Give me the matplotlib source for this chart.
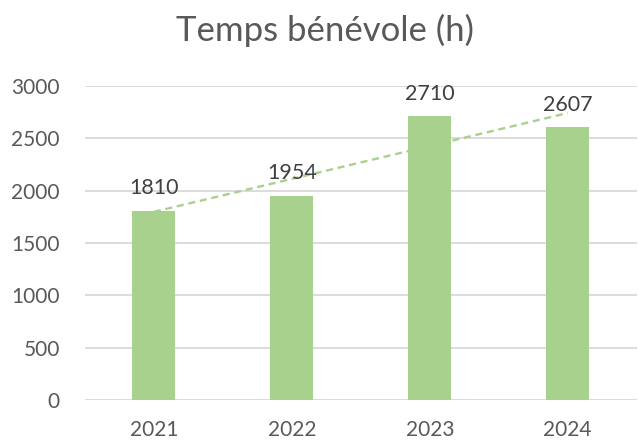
import numpy as np
import matplotlib.pyplot as plt

# données
annees = ['2021', '2022', '2023', '2024']
heures = [1810, 1954, 2710, 2607]
graduations = [0, 500, 1000, 1500, 2000, 2500, 3000]

vert = '#A9D18E'
plt.rcParams['font.family'] = ['Lato', 'DejaVu Sans']

fig = plt.figure(figsize=(6.38, 4.47), dpi=100)
ax = fig.add_axes([0.133, 0.105, 0.865, 0.7025])

x = np.arange(len(annees))
ax.bar(x, heures, width=0.31, color=vert, zorder=3)

# courbe de tendance linéaire
m, b = np.polyfit(x, heures, 1)
ax.plot(x, m * x + b, linestyle=(0, (3, 2)), color=vert, linewidth=1.7, zorder=4)

for xi, h in zip(x, heures):
    ax.annotate(str(h), (xi, h), xytext=(0, 9), textcoords='offset points',
                ha='center', va='bottom', fontsize=15.5, color='#404040', zorder=5)

ax.set_xlim(-0.5, len(annees) - 0.5)
ax.set_ylim(0, 3000)
ax.set_yticks(graduations)
ax.set_xticks(x)
ax.set_xticklabels(annees)
ax.grid(axis='y', color='#D9D9D9', linewidth=1.3, zorder=0)
ax.tick_params(axis='both', length=0, labelsize=15, labelcolor='#595959')
ax.tick_params(axis='y', pad=18)
ax.tick_params(axis='x', pad=14)
for s in ax.spines.values():
    s.set_visible(False)

fig.text(0.51, 0.933, 'Temps bénévole (h)', ha='center', va='center',
         fontsize=25, color='#595959')

fig.savefig('out.png', dpi=100)
